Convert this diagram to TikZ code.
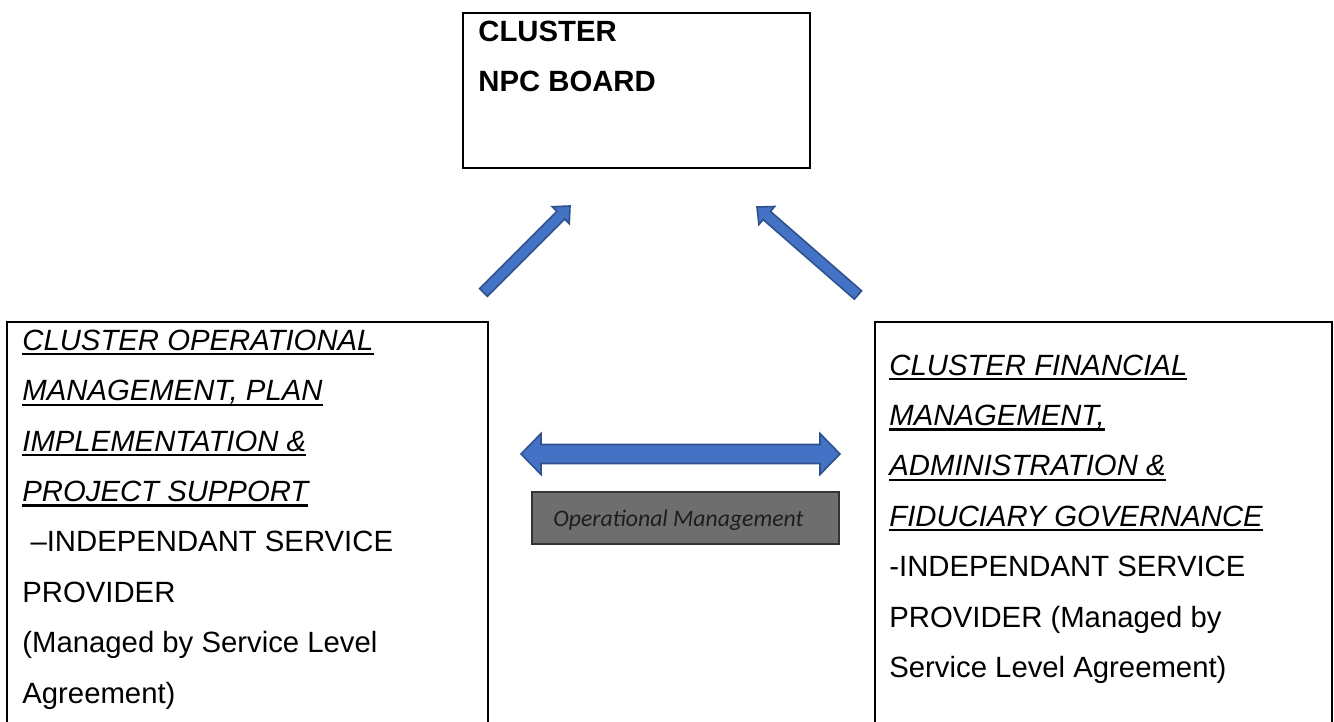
\documentclass[tikz,border=0pt]{standalone}
\usepackage{fontspec}
\setmainfont{Liberation Sans}
\newfontfamily\calibrifont{Carlito}
\usetikzlibrary{calc}

\definecolor{arrowfill}{HTML}{4472C4}
\definecolor{arrowedge}{HTML}{2F528F}
\definecolor{notefill}{HTML}{6E6E6E}
\definecolor{noteedge}{HTML}{333333}
\definecolor{notetext}{HTML}{1E1E1E}

% italic heading text with a firm underline
\newcommand{\ulhead}[1]{\setbox0\hbox{\itshape #1}\rlap{\rule[-2.6pt]{\wd0}{1.1pt}}\box0}

\begin{document}
\begin{tikzpicture}[x=0.5pt,y=-0.5pt,
  frame/.style={draw=black, line width=1.1pt, anchor=north west,
                inner sep=0pt, outer sep=0pt},
  % multi-line texts are placed by the baseline of their last line
  bodytext/.style={anchor=base west, align=left, inner sep=0pt,
                   font=\fontsize{14.65}{25.2}\selectfont},
  blockarrow/.style={fill=arrowfill, draw=arrowedge, line width=0.8pt,
                     line join=miter},
  notebox/.style={draw=noteedge, fill=notefill, line width=0.6pt,
                  anchor=north west, inner sep=0pt, outer sep=0pt}]
\useasboundingbox (0,0) rectangle (1334,722);
\clip (0,0) rectangle (1334,722);

% board
\node[frame, minimum width=173.5pt, minimum height=77.5pt] (board) at (463,13) {};
\node[bodytext, font=\fontsize{14.65}{25}\selectfont\bfseries] (boardtext)
  at (478,92) {CLUSTER\\NPC BOARD};

% operational side
\node[frame, minimum width=240.5pt, minimum height=230pt] (ops) at (7,322) {};
\node[bodytext] (opstext) at (22,703) {%
  \ulhead{CLUSTER OPERATIONAL}\\
  \ulhead{MANAGEMENT, PLAN}\\
  \ulhead{IMPLEMENTATION \&}\\
  \ulhead{PROJECT SUPPORT}\\
  \ –INDEPENDANT SERVICE\\
  PROVIDER\\
  (Managed by Service Level\\
  Agreement)};

% financial side
\node[frame, minimum width=228.5pt, minimum height=230pt] (fin) at (875,322) {};
\node[bodytext] (fintext) at (889,677.4) {%
  \ulhead{CLUSTER FINANCIAL}\\
  \ulhead{MANAGEMENT,}\\
  \ulhead{ADMINISTRATION \&}\\
  \ulhead{FIDUCIARY GOVERNANCE}\\
  -INDEPENDANT SERVICE\\
  PROVIDER (Managed by\\
  Service Level Agreement)};

% note under the two-way arrow
\node[notebox, minimum width=153.5pt, minimum height=26pt] (note) at (532,492) {};
\node[anchor=base west, inner sep=0pt, text=notetext,
      font=\calibrifont\itshape\fontsize{11.85}{14}\selectfont] (notelabel)
  at (553,526) {Operational Management};

% arrow end points
\coordinate (lt) at (483.5,292.5);
\coordinate (lh) at (570,206);
\coordinate (rt) at (858,295);
\coordinate (rh) at (757,207);
\coordinate (dl) at (521,454);
\coordinate (dr) at (840,454);

% head bases
\coordinate (lb) at ($(lh)!6.5pt!(lt)$);
\coordinate (rb) at ($(rh)!6.5pt!(rt)$);
\coordinate (dlb) at ($(dl)!10pt!(dr)$);
\coordinate (drb) at ($(dr)!10pt!(dl)$);

% left block arrow
\draw[blockarrow] ($(lt)!2.75pt!90:(lh)$) -- ($(lb)!2.75pt!-90:(lt)$)
  -- ($(lb)!6pt!-90:(lt)$) -- (lh) -- ($(lb)!6pt!90:(lt)$)
  -- ($(lb)!2.75pt!90:(lt)$) -- ($(lt)!2.75pt!-90:(lh)$) -- cycle;

% right block arrow
\draw[blockarrow] ($(rt)!2.75pt!90:(rh)$) -- ($(rb)!2.75pt!-90:(rt)$)
  -- ($(rb)!6pt!-90:(rt)$) -- (rh) -- ($(rb)!6pt!90:(rt)$)
  -- ($(rb)!2.75pt!90:(rt)$) -- ($(rt)!2.75pt!-90:(rh)$) -- cycle;

% two-way block arrow
\draw[blockarrow] (dl) -- ($(dlb)!10.25pt!90:(dr)$) -- ($(dlb)!4.75pt!90:(dr)$)
  -- ($(drb)!4.75pt!-90:(dl)$) -- ($(drb)!10.25pt!-90:(dl)$) -- (dr)
  -- ($(drb)!10.25pt!90:(dl)$) -- ($(drb)!4.75pt!90:(dl)$)
  -- ($(dlb)!4.75pt!-90:(dr)$) -- ($(dlb)!10.25pt!-90:(dr)$) -- cycle;
\end{tikzpicture}
\end{document}
